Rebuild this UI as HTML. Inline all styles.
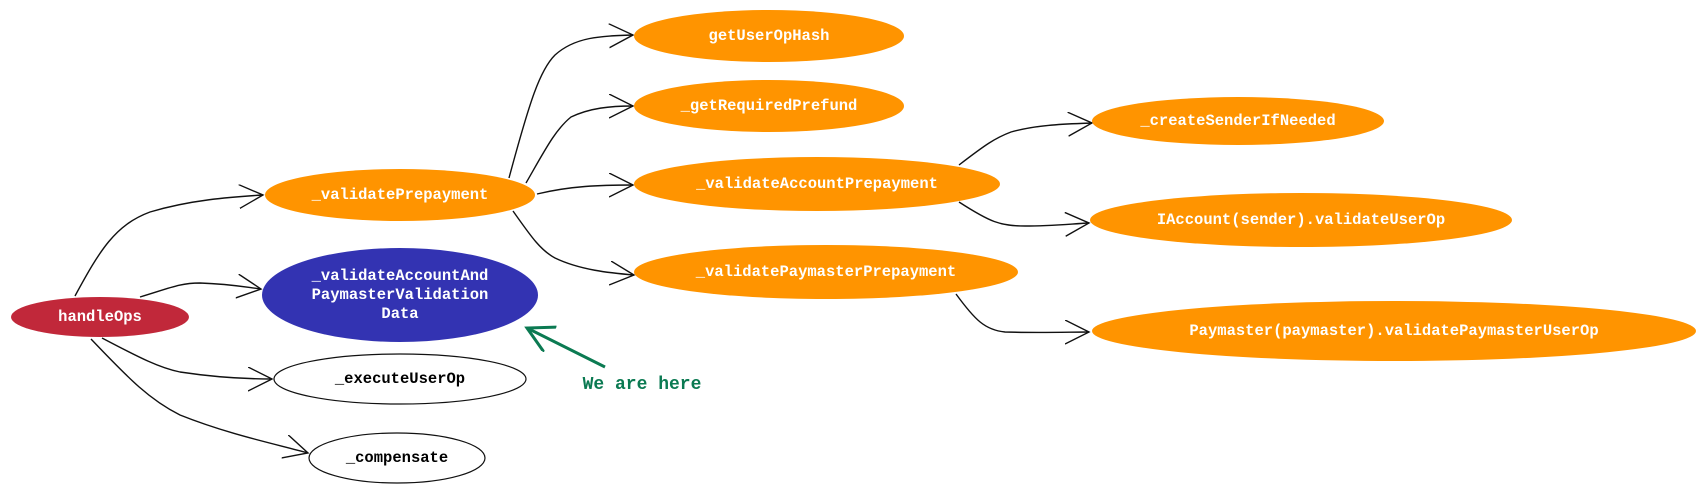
<!DOCTYPE html>
<html><head><meta charset="utf-8"><style>
html,body{margin:0;padding:0;background:#fff;}
svg{display:block;}
text{font-family:"Liberation Mono",monospace;font-size:15.5px;text-anchor:middle;dominant-baseline:central;font-weight:bold;}
</style></head><body>
<svg width="1706" height="492" viewBox="0 0 1706 492" xmlns="http://www.w3.org/2000/svg">
<defs>
<marker id="a" markerUnits="userSpaceOnUse" markerWidth="30" markerHeight="30" refX="24" refY="12" orient="auto">
<path d="M0,0 L24,12 L0,24" fill="none" stroke="#111" stroke-width="1.4"/>
</marker>
<marker id="g" markerUnits="userSpaceOnUse" markerWidth="40" markerHeight="40" refX="26" refY="14" orient="auto">
<path d="M0,0 L26,14 L0,28" fill="none" stroke="#0b7a52" stroke-width="3"/>
</marker>
</defs>
<g fill="none" stroke="#111" stroke-width="1.4" marker-end="url(#a)">
<path d="M75,296 C100,250 115,225 150,212 C190,200 230,197 263,195"/>
<path d="M140,297 C170,288 180,283 200,283 C230,284 245,287 261,289"/>
<path d="M102,338 C140,358 160,368 180,372 C220,378 250,379 272,379"/>
<path d="M91,339 C130,380 150,400 180,415 C230,435 280,445 308,453"/>
<path d="M509,178 C530,100 540,70 555,55 C575,37 600,36 633,35"/>
<path d="M526,183 C545,150 555,130 571,117 C590,108 610,106 633,106"/>
<path d="M537,194 C570,186 600,185 633,185"/>
<path d="M513,211 C530,235 540,250 555,258 C580,270 610,273 634,275"/>
<path d="M959,165 C985,145 995,138 1011,132 C1040,124 1070,124 1092,123"/>
<path d="M959,202 C990,222 1000,226 1025,226 C1050,226 1070,224 1089,223"/>
<path d="M956,294 C975,320 985,330 1005,332 C1040,333 1070,332 1089,332"/>
</g>
<ellipse cx="100" cy="317" rx="89" ry="20" fill="#c1283a"/>
<text x="100" y="317" fill="#fff">handleOps</text>
<ellipse cx="400" cy="195" rx="135" ry="26" fill="#ff9400"/>
<text x="400" y="195" fill="#fff">_validatePrepayment</text>
<ellipse cx="400" cy="295" rx="138" ry="47" fill="#3333b2"/>
<text x="400" y="276" fill="#fff">_validateAccountAnd</text>
<text x="400" y="295" fill="#fff">PaymasterValidation</text>
<text x="400" y="314" fill="#fff">Data</text>
<ellipse cx="400" cy="379" rx="126" ry="25" fill="#fff" stroke="#111" stroke-width="1.2"/>
<text x="400" y="379" fill="#000">_executeUserOp</text>
<ellipse cx="397" cy="458" rx="88" ry="25" fill="#fff" stroke="#111" stroke-width="1.2"/>
<text x="397" y="458" fill="#000">_compensate</text>
<ellipse cx="769" cy="36" rx="135" ry="26" fill="#ff9400"/>
<text x="769" y="36" fill="#fff">getUserOpHash</text>
<ellipse cx="769" cy="106" rx="135" ry="26" fill="#ff9400"/>
<text x="769" y="106" fill="#fff">_getRequiredPrefund</text>
<ellipse cx="817" cy="184" rx="183" ry="27" fill="#ff9400"/>
<text x="817" y="184" fill="#fff">_validateAccountPrepayment</text>
<ellipse cx="826" cy="272" rx="192" ry="27" fill="#ff9400"/>
<text x="826" y="272" fill="#fff">_validatePaymasterPrepayment</text>
<ellipse cx="1238" cy="121" rx="146" ry="24" fill="#ff9400"/>
<text x="1238" y="121" fill="#fff">_createSenderIfNeeded</text>
<ellipse cx="1301" cy="220" rx="211" ry="27" fill="#ff9400"/>
<text x="1301" y="220" fill="#fff">IAccount(sender).validateUserOp</text>
<ellipse cx="1394" cy="331" rx="302" ry="30" fill="#ff9400"/>
<text x="1394" y="331" fill="#fff">Paymaster(paymaster).validatePaymasterUserOp</text>
<path d="M605,367 L527,328" fill="none" stroke="#0b7a52" stroke-width="3" marker-end="url(#g)"/>
<text x="642" y="385" fill="#0b7a52" style="font-size:18px">We are here</text>
</svg>
</body></html>
